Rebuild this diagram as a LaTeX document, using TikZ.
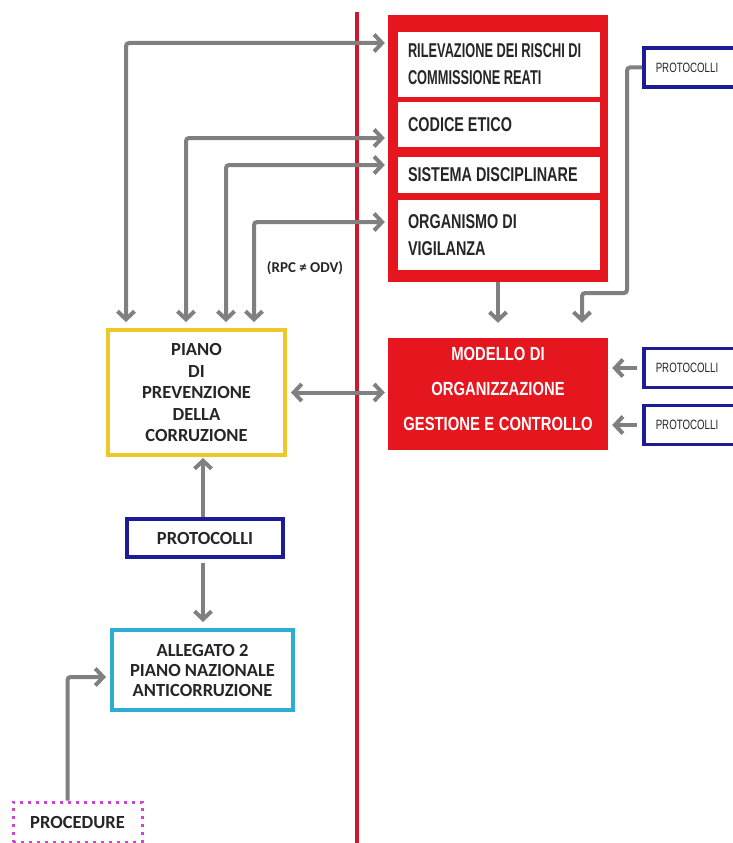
\documentclass[tikz,border=0pt]{standalone}
\usepackage{fontspec}
\setmainfont{Carlito}
\newfontfamily\narrowfont{Liberation Sans}[FakeStretch=0.72]
\newfontfamily\narrowerfont{Liberation Sans}[FakeStretch=0.64]
\newfontfamily\modelfont{Liberation Sans}[FakeStretch=0.78]
\usepackage{tikz}
\usetikzlibrary{calc,arrows.meta,positioning}
\definecolor{arrowgray}{RGB}{128,128,128}
\definecolor{mogred}{RGB}{230,22,30}
\definecolor{linered}{RGB}{208,22,42}
\definecolor{protblue}{RGB}{28,28,150}
\definecolor{pianoyellow}{RGB}{238,200,40}
\definecolor{allcyan}{RGB}{45,172,212}
\definecolor{procmagenta}{RGB}{205,70,210}
\definecolor{txtgray}{RGB}{38,38,38}
\newcommand\narrowspace[1]{\spaceskip=#1\relax}
\tikzset{
  >={Straight Barb[length=8pt,width=17pt]},
  link/.style={draw=arrowgray,line width=4pt,rounded corners=3pt},
  divider/.style={draw=linered,line width=4.5pt},
  redframe/.style={fill=mogred,minimum width=220pt,minimum height=267pt},
  innerbox/.style={fill=white,text=txtgray,align=left,text width=182pt,
    inner xsep=10pt,inner ysep=2pt,
    font=\narrowfont\bfseries\fontsize{20}{27}\selectfont,
    execute at begin node={\narrowspace{4pt}}},
  modelbox/.style={fill=mogred,text=white,align=center,minimum width=220pt,
    minimum height=112pt,
    font=\modelfont\bfseries\fontsize{19}{35}\selectfont,
    execute at begin node={\narrowspace{4.5pt}}},
  smallprot/.style={draw=protblue,line width=3.5pt,fill=white,anchor=west,
    align=left,text width=80pt,inner xsep=12pt,minimum height=39pt,
    text=txtgray,font=\narrowfont\fontsize{13.5}{16}\selectfont},
  leftbox/.style={line width=4pt,fill=white,align=center,text=txtgray,
    font=\bfseries\fontsize{18.5}{21.5}\selectfont}
}

\begin{document}
\begin{tikzpicture}[x=1pt,y=-1pt]
  \useasboundingbox (0,0) rectangle (733,843);
  \clip (0,0) rectangle (733,843);
  \draw[divider] (357,12) -- (357,843);
  % red column
  \node[redframe] (frame) at (498,148.5) {};
  \node[innerbox,minimum height=65pt] (risk) at (499,64.5)
    {\narrowerfont\bfseries\narrowspace{3.5pt}RILEVAZIONE DEI RISCHI DI\\COMMISSIONE REATI};
  \node[innerbox,minimum height=45pt] (codice) at (499,124.5) {CODICE ETICO};
  \node[innerbox,minimum height=36pt] (sistema) at (499,175) {SISTEMA DISCIPLINARE};
  \node[innerbox,minimum height=70pt] (odv) at (499,235) {ORGANISMO DI\\VIGILANZA};
  \node[modelbox] (model) at (498,394)
    {MODELLO DI\\ORGANIZZAZIONE\\GESTIONE E CONTROLLO\\[-25pt]\mbox{}};
  \node[smallprot] (sprot) at (642,67.5) {PROTOCOLLI};
  \node[smallprot] (rprotA) at (642,368) {PROTOCOLLI};
  \node[smallprot] (rprotB) at (642,425) {PROTOCOLLI};
  % left column
  \node[leftbox,draw=pianoyellow,minimum width=177pt,minimum height=125pt] (piano)
    at (196.5,392.5) {PIANO\\DI\\PREVENZIONE\\DELLA\\CORRUZIONE};
  \node[leftbox,draw=protblue,minimum width=156pt,minimum height=38pt] (lprot)
    at (205,538) {PROTOCOLLI};
  \node[leftbox,draw=allcyan,minimum width=181pt,minimum height=80pt,
    font=\bfseries\fontsize{18.5}{20}\selectfont] (allegato)
    at (202.5,670) {ALLEGATO 2\\PIANO NAZIONALE\\ANTICORRUZIONE};
  \node[leftbox,draw=procmagenta,line width=3pt,dash pattern=on 3pt off 5pt,
    minimum width=129pt,minimum height=40pt] (proc) at (77.5,822) {PROCEDURE};
  \node[text=txtgray,font=\bfseries\fontsize{15}{18}\selectfont] (rpc)
    at (305,268) {(RPC ≠ ODV)};
  % connectors
  \foreach \dx/\yy in {20/43,80/138,120/165,148/222}
    \draw[link,<->,shorten <=6pt,shorten >=3pt]
      ([xshift=\dx pt]piano.north west) |- (frame.west |- 0,\yy);
  \draw[link,->,shorten >=15pt] (frame.south) -- (model.north);
  \draw[link,->,shorten >=15pt] (sprot.west) -| (627,293)
    -| ([xshift=84pt]model.north);
  \draw[link,<->,shorten <=4pt,shorten >=3pt] (piano.east) -- (piano.east -| model.west);
  \draw[link,->,shorten <=5pt,shorten >=4pt] (rprotA.west) -- (rprotA.west -| model.east);
  \draw[link,->,shorten <=5pt,shorten >=4pt] (rprotB.west) -- (rprotB.west -| model.east);
  \draw[link,->,shorten >=1pt] ([xshift=-2pt]lprot.north) -- ([xshift=-2pt]lprot.north |- piano.south);
  \draw[link,->,shorten <=4pt,shorten >=6pt] ([xshift=-2pt]lprot.south) -- ([xshift=-2pt]lprot.south |- allegato.north);
  \draw[link,->,shorten >=4pt] ([xshift=-10pt]proc.north) |- ([yshift=-7pt]allegato.west);
\end{tikzpicture}
\end{document}
